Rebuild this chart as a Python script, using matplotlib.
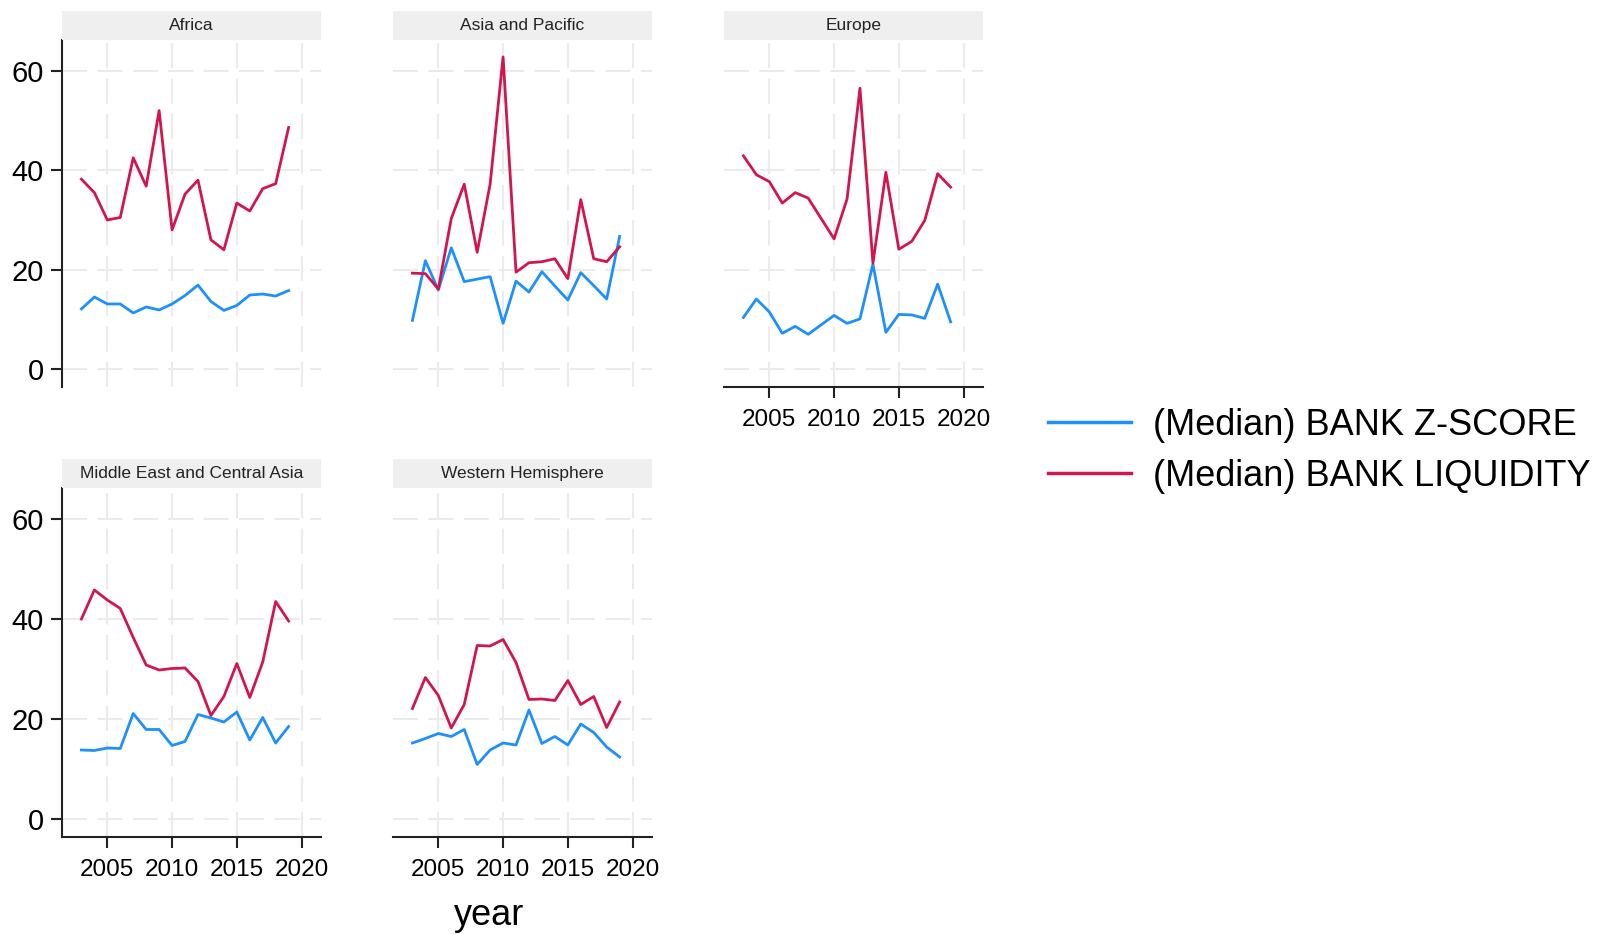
import numpy as np
import matplotlib
matplotlib.use('Agg')
import matplotlib.pyplot as plt
from matplotlib.lines import Line2D

plt.rcParams['font.family'] = ['Liberation Sans', 'DejaVu Sans']

# ── Data (medians by region, 2003-2019) ───────────────────────────────────
years = list(range(2003, 2020))

regions = ["Africa", "Asia and Pacific", "Europe",
           "Middle East and Central Asia", "Western Hemisphere"]

zscore_africa = [12.1, 14.5, 13.1, 13.1, 11.3, 12.5, 11.9, 13.1, 14.8,
                 16.9, 13.6, 11.8, 12.8, 14.9, 15.1, 14.7, 15.8]
liq_africa    = [38.2, 35.5, 30.0, 30.5, 42.5, 36.8, 52.0, 28.0, 35.2,
                 38.0, 26.0, 24.0, 33.4, 31.8, 36.3, 37.3, 48.6]

zscore_asia = [9.8, 21.8, 15.9, 24.4, 17.6, 18.1, 18.6, 9.2, 17.7,
               15.5, 19.6, 16.7, 13.9, 19.4, 16.8, 14.1, 26.7]
liq_asia    = [19.3, 19.2, 16.1, 30.3, 37.2, 23.5, 37.2, 62.8, 19.5,
               21.4, 21.6, 22.2, 18.2, 34.1, 22.2, 21.6, 24.6]

zscore_europe = [10.4, 14.1, 11.5, 7.2, 8.6, 7.0, 8.9, 10.8, 9.2,
                 10.1, 21.1, 7.4, 11.0, 10.9, 10.2, 17.1, 9.5]
liq_europe    = [42.9, 39.1, 37.7, 33.4, 35.5, 34.4, 30.3, 26.2, 34.2,
                 56.5, 21.3, 39.6, 24.1, 25.7, 29.9, 39.3, 36.6]

zscore_meca = [13.8, 13.7, 14.2, 14.1, 21.1, 17.9, 17.9, 14.7, 15.5,
               20.9, 20.2, 19.4, 21.4, 15.8, 20.3, 15.2, 18.5]
liq_meca    = [40.0, 45.8, 43.8, 42.1, 36.3, 30.8, 29.8, 30.1, 30.2,
               27.5, 20.7, 24.5, 31.1, 24.3, 31.4, 43.5, 39.6]

zscore_whem = [15.2, 16.1, 17.1, 16.5, 17.9, 10.9, 13.8, 15.2, 14.8,
               21.8, 15.1, 16.5, 14.8, 19.0, 17.3, 14.4, 12.4]
liq_whem    = [22.1, 28.3, 24.7, 18.2, 22.9, 34.7, 34.6, 35.9, 31.3,
               23.9, 24.0, 23.7, 27.7, 22.9, 24.5, 18.3, 23.4]

zscores   = [zscore_africa, zscore_asia, zscore_europe, zscore_meca, zscore_whem]
liquidity = [liq_africa, liq_asia, liq_europe, liq_meca, liq_whem]

x_ticks = [2005, 2010, 2015, 2020]
y_ticks = [0, 20, 40, 60]

BLUE = '#1e8fff'
RED  = '#d3154f'

# ── Layout (pixels) ───────────────────────────────────────────────────────
W, H = 1600, 934
cols = [(62, 321), (393, 652), (724, 983)]
rows = [(40, 387), (488, 837)]
strip_h = 29

# panel -> (col, row, show_y, show_x)
layout = [(0, 0, True, False), (1, 0, False, False), (2, 0, False, True),
          (0, 1, True, True), (1, 1, False, True)]

fig = plt.figure(figsize=(W / 100, H / 100), dpi=100)


def px_rect(x0, x1, y0, y1):
    return [x0 / W, 1 - y1 / H, (x1 - x0) / W, (y1 - y0) / H]


for name, z, liq, (c, r, show_y, show_x) in zip(regions, zscores,
                                                 liquidity, layout):
    x0, x1 = cols[c]
    y0, y1 = rows[r]
    ax = fig.add_axes(px_rect(x0, x1, y0, y1))
    ax.set_xlim(2001.5, 2021.5)
    ax.set_ylim(-3.6, 66.2)
    ax.set_xticks(x_ticks)
    ax.set_yticks(y_ticks)
    ax.grid(True, color='#ebebeb', linewidth=1.5, linestyle=(0, (12, 5)))
    ax.set_axisbelow(True)

    ax.plot(years, z, color=BLUE, linewidth=2.0)
    ax.plot(years, liq, color=RED, linewidth=2.0)

    for s in ['top', 'right']:
        ax.spines[s].set_visible(False)
    ax.spines['left'].set_visible(show_y)
    ax.spines['bottom'].set_visible(show_x)
    for s in ['left', 'bottom']:
        ax.spines[s].set_linewidth(1.5)
        ax.spines[s].set_color('#222222')

    ax.tick_params(axis='y', left=show_y, labelleft=show_y, length=8,
                   width=1.5, pad=5, labelsize=21, color='#222222')
    ax.tick_params(axis='x', bottom=show_x, labelbottom=show_x, length=8,
                   width=1.5, pad=8, labelsize=17.5, color='#222222')

    # strip title
    sax = fig.add_axes(px_rect(x0, x1, y0 - strip_h, y0))
    sax.set_facecolor('#efefef')
    sax.set_xticks([])
    sax.set_yticks([])
    for s in sax.spines.values():
        s.set_visible(False)
    sax.text(0.5, 0.5, name, ha='center', va='center', fontsize=12.5,
             color='#222222', transform=sax.transAxes)

fig.text(489 / W, 1 - 925 / H, 'year', ha='center', va='baseline',
         fontsize=26)

handles = [Line2D([], [], color=BLUE, linewidth=2.5),
           Line2D([], [], color=RED, linewidth=2.5)]
fig.legend(handles, ['(Median) BANK Z-SCORE', '(Median) BANK LIQUIDITY'],
           loc='center left', bbox_to_anchor=(1048 / W, 1 - 451 / H),
           frameon=False, fontsize=26, handlelength=2.3,
           handletextpad=0.62, labelspacing=0.44, borderpad=0,
           borderaxespad=0)

plt.savefig('out.png', dpi=100)
plt.close()
